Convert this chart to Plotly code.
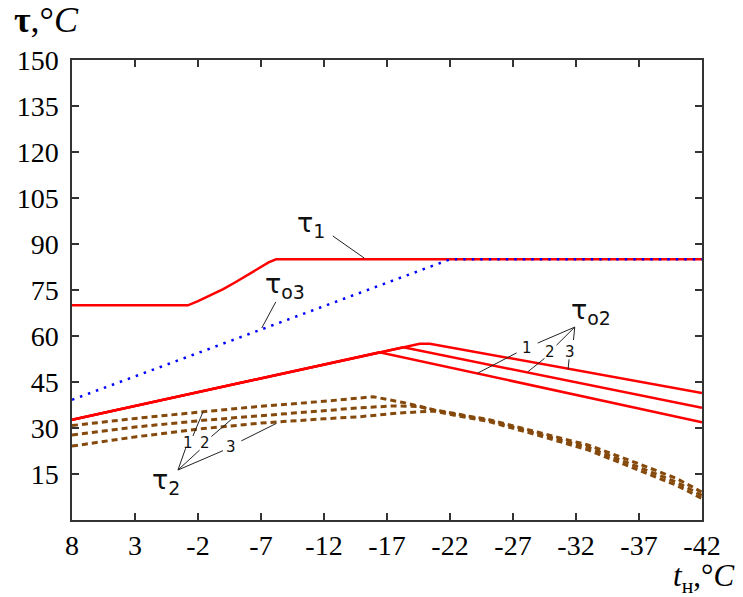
import plotly.graph_objects as go

# ---------------- data ----------------
x_ticks = [8, 3, -2, -7, -12, -17, -22, -27, -32, -37, -42]
y_ticks = [15, 30, 45, 60, 75, 90, 105, 120, 135, 150]

tau1_t = [8, -1.2, -2, -3, -4, -5, -6, -7, -7.6, -8.2, -42]
tau1_v = [70, 70, 71.4, 73.3, 75.3, 77.6, 80.1, 82.6, 84.0, 85, 85]

tauo3_t = [8, -22, -42]
tauo3_v = [39.2, 85, 85]

tauo2_1_t = [8, -16.4, -42]
tauo2_1_v = [32.7, 54.7, 31.9]
tauo2_2_t = [8, -16.4, -18.3, -42]
tauo2_2_v = [32.7, 54.7, 56.3, 36.6]
tauo2_3_t = [8, -16.4, -19.6, -20.4, -42]
tauo2_3_v = [32.7, 54.7, 57.5, 57.5, 41.4]

tau2_1_t = [8, 3, -2.4, -7, -12, -15.9, -18.3, -20.7, -23.3, -25, -29, -33, -37, -40, -42]
tau2_1_v = [30.8, 33.1, 35.3, 37.1, 38.7, 40.2, 38.3, 36.0, 34.0, 32.8, 28.6, 24.4, 18.3, 13.5, 9.1]
tau2_2_t = [8, 3, -2.4, -7, -12, -14.9, -17.5, -19.5, -20.7, -23.3, -25, -29, -33, -37, -40, -42]
tau2_2_v = [27.7, 30.3, 32.5, 34.1, 35.8, 36.6, 37.2, 37.0, 35.8, 33.7, 32.5, 28.1, 23.6, 17.2, 12.3, 8.0]
tau2_3_t = [8, 3, -2.4, -7, -12, -14.9, -18, -20.7, -23.3, -25, -29, -33, -37, -40, -42]
tau2_3_v = [24.1, 27.1, 29.8, 31.6, 33.0, 33.7, 34.9, 35.5, 33.4, 32.2, 27.6, 22.8, 16.2, 11.3, 7.0]

RED = "#FF0000"
BLUE = "#0000FF"
BROWN = "#85490C"

fig = go.Figure()

for t, v in [(tau2_1_t, tau2_1_v), (tau2_2_t, tau2_2_v), (tau2_3_t, tau2_3_v)]:
    fig.add_trace(go.Scatter(x=t, y=v, mode="lines",
                             line=dict(color=BROWN, width=3, dash="6px,4px"),
                             showlegend=False, hoverinfo="skip"))

for t, v in [(tauo2_1_t, tauo2_1_v), (tauo2_2_t, tauo2_2_v), (tauo2_3_t, tauo2_3_v)]:
    fig.add_trace(go.Scatter(x=t, y=v, mode="lines",
                             line=dict(color=RED, width=2.5),
                             showlegend=False, hoverinfo="skip"))

fig.add_trace(go.Scatter(x=tau1_t, y=tau1_v, mode="lines",
                         line=dict(color=RED, width=2.5),
                         showlegend=False, hoverinfo="skip"))
fig.add_trace(go.Scatter(x=tauo3_t, y=tauo3_v, mode="lines",
                         line=dict(color=BLUE, width=2.5, dash="2.5px,6px"),
                         showlegend=False, hoverinfo="skip"))

# ---------------- leader lines ----------------
leaders = [
    # tau1
    (-12.7, 92.6, -15.2, 85.4),
    # tau_o3
    (-8.17, 71.1, -7.06, 62.6),
    # tau_o2
    (-31.9, 62.9, -28.96, 57.7), (-27.29, 54.5, -24.2, 47.9),
    (-31.9, 62.9, -30.45, 57.0), (-29.5, 52.7, -28.2, 48.4),
    (-31.9, 62.9, -31.8, 58.7), (-31.45, 52.4, -31.37, 49.1),
    # tau2
    (-0.41, 16.3, -1.02, 23.4), (-1.6, 27.4, -2.4, 35.3),
    (-0.41, 16.3, -2.13, 22.8), (-3.06, 27.2, -4.65, 32.8),
    (-0.41, 16.3, -3.98, 22.6), (-5.44, 25.8, -8.22, 31.5),
]
for x0, y0, x1, y1 in leaders:
    fig.add_shape(type="line", x0=x0, y0=y0, x1=x1, y1=y1, xref="x", yref="y",
                  line=dict(color="#222222", width=1))

SANS = "DejaVu Sans"
labels = [
    (-11.0, 96.5, "τ<sub>1</sub>", 27),
    (-8.9, 76.6, "τ<sub>o3</sub>", 27),
    (-33.2, 68.0, "τ<sub>o2</sub>", 27),
    (0.56, 12.6, "τ<sub>2</sub>", 27),
    (-28.08, 56.2, "1", 15), (-29.9, 54.9, "2", 15), (-31.56, 54.9, "3", 15),
    (-1.2, 25.2, "1", 15), (-2.59, 25.0, "2", 15), (-4.65, 23.9, "3", 15),
]
for x, y, txt, sz in labels:
    fig.add_annotation(x=x, y=y, xref="x", yref="y", text=txt, showarrow=False,
                       font=dict(family=SANS, size=sz, color="#111111"),
                       xanchor="center", yanchor="middle")

SERIF = "Liberation Serif"
fig.add_annotation(x=-0.095, y=1.087, xref="paper", yref="paper",
                   text="<b>τ</b>,°<i>C</i>", showarrow=False,
                   font=dict(family=SERIF, size=36, color="black"),
                   xanchor="left", yanchor="middle")
fig.add_annotation(x=1.052, y=-0.127, xref="paper", yref="paper",
                   text="<i>t</i><sub>н</sub>,°<i>C</i>", showarrow=False,
                   font=dict(family=SERIF, size=31, color="black"),
                   xanchor="right", yanchor="middle", borderpad=0)

axis_common = dict(showline=True, linecolor="#333333", linewidth=1.5, mirror="ticks",
                   ticks="inside", ticklen=7, tickwidth=1.5, tickcolor="#333333",
                   showgrid=False, zeroline=False,
                   tickfont=dict(family=SERIF, size=28, color="black"))

fig.update_xaxes(range=[8, -42], tickvals=x_ticks, ticktext=[str(v) for v in x_ticks],
                 ticklabelstandoff=0, **axis_common)
fig.update_yaxes(range=[0, 150], tickvals=y_ticks, ticktext=[str(v) for v in y_ticks],
                 ticklabelstandoff=6, **axis_common)

fig.update_layout(width=743, height=597,
                  margin=dict(l=72, r=41, t=60, b=77),
                  plot_bgcolor="white", paper_bgcolor="white",
                  showlegend=False)

fig.write_html("out.html")
